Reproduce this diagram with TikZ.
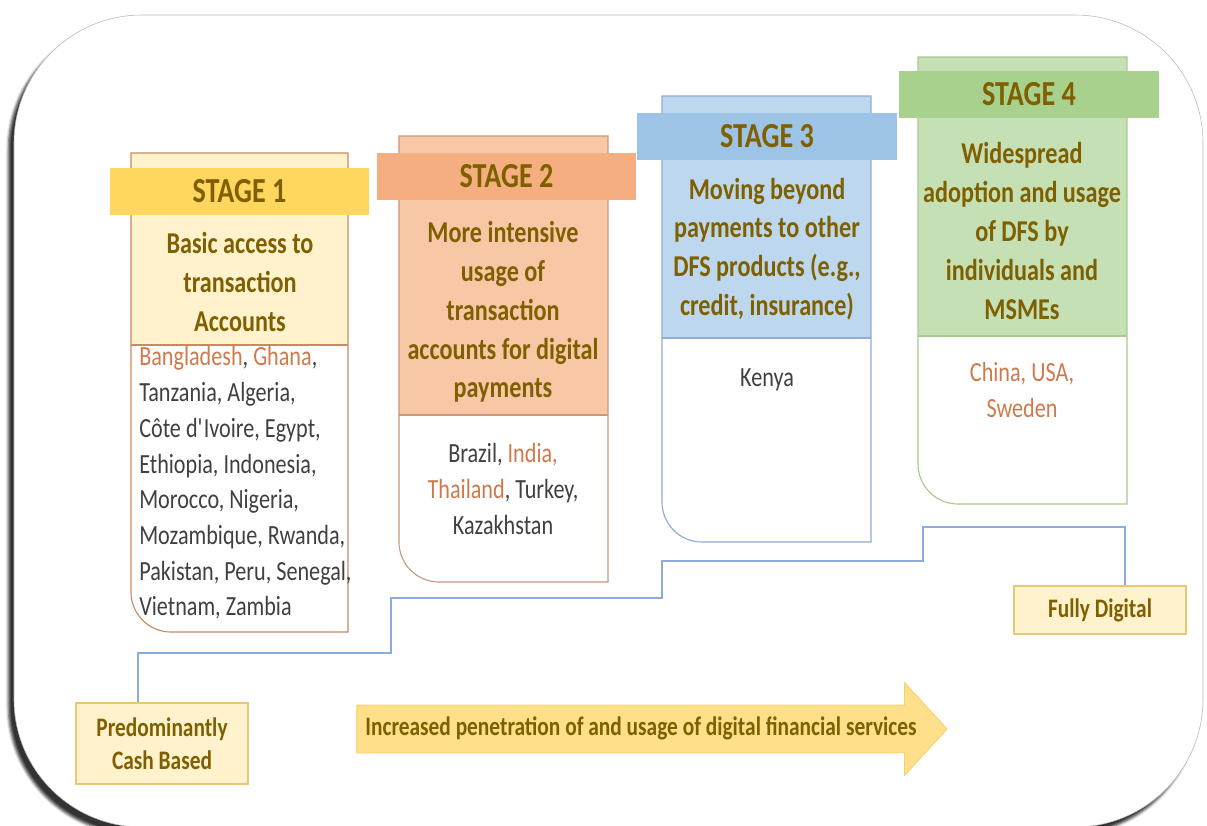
\documentclass[tikz,border=0pt]{standalone}
\usepackage{fontspec}
\setmainfont[FakeStretch=0.8]{Carlito}
\usepackage{xcolor}
\usetikzlibrary{positioning,shapes.arrows,shadows.blur}

\definecolor{titletxt}{HTML}{7F6000}
\definecolor{cntrytxt}{HTML}{404040}
\definecolor{hilite}{HTML}{D07A4C}
\definecolor{sonefill}{HTML}{FFF2CC}
\definecolor{soneband}{HTML}{FFD75E}
\definecolor{soneline}{HTML}{C98A5E}
\definecolor{stwofill}{HTML}{F8C7A6}
\definecolor{stwoband}{HTML}{F4AE80}
\definecolor{stwoline}{HTML}{C8987A}
\definecolor{sthreefill}{HTML}{BDD7EE}
\definecolor{sthreeband}{HTML}{9DC3E6}
\definecolor{sthreeline}{HTML}{8FAADC}
\definecolor{sfourfill}{HTML}{C5E0B4}
\definecolor{sfourband}{HTML}{A9D18E}
\definecolor{sfourline}{HTML}{A9C98F}
\definecolor{stepblue}{HTML}{8FAADC}
\definecolor{tagfill}{HTML}{FFF2CC}
\definecolor{tagline}{HTML}{E8C877}
\definecolor{arrowfill}{HTML}{FFE08A}
\definecolor{arrowline}{HTML}{F5D06B}

\newcommand{\hl}[1]{\textcolor{hilite}{#1}}
% box with rounded lower left corner: left, top, right, bottom, divider, fill, line
\newcommand{\stagebox}[7]{%
 \fill[#6] (#1,#2) rectangle (#3,#5);
 \draw[#7, line width=0.8pt] (#1,#5) -- (#3,#5);
 \draw[#7, line width=0.8pt] (#1,#2) -- (#3,#2) -- (#3,#4) -- ({#1+40},#4) arc (270:180:1cm) -- cycle;}

\tikzset{
 band/.style={fill=#1, minimum width=6.475cm, minimum height=1.175cm, inner sep=0pt,
   text=titletxt, font=\bfseries\fontsize{25}{30}\selectfont},
 desc/.style={align=center, text=titletxt, inner sep=0pt,
   font=\bfseries\fontsize{21.5}{27.6}\selectfont},
 cntry/.style={align=#1, text=cntrytxt, inner sep=0pt,
   font=\fontsize{19.7}{25.4}\selectfont},
 tag/.style={draw=tagline, fill=tagfill, line width=0.8pt, text=titletxt, align=center,
   inner sep=0pt, font=\bfseries\fontsize{19}{23.5}\selectfont},
 stepline/.style={draw=stepblue, line width=0.9pt},
}

\begin{document}
\begin{tikzpicture}[x=0.025cm,y=-0.025cm]
\useasboundingbox (0,0) rectangle (1207,825);
% frame
\draw[gray!55, fill=white, rounded corners=3.2cm,
  blur shadow={shadow xshift=-4pt, shadow yshift=-5pt, shadow opacity=80}]
  (14,15) rectangle (1203,827);

% stage boxes
\stagebox{131}{153}{348}{632}{345}{sonefill}{soneline}
\stagebox{399}{136}{608}{582}{415}{stwofill}{stwoline}
\stagebox{662}{96}{871}{542}{338}{sthreefill}{sthreeline}
\stagebox{918}{57}{1127}{504}{336}{sfourfill}{sfourline}

% nodes
\node[band=soneband] (s1) at (239.5,191.5) {STAGE 1};
\node[desc] (d1) at (240,282) {Basic access to\\transaction\\Accounts};
\node[cntry=left, anchor=west] (c1) at (139,483)
  {\hl{Bangladesh}, \hl{Ghana},\\Tanzania, Algeria,\\C\^ote d\textquotesingle Ivoire, Egypt,\\Ethiopia, Indonesia,\\Morocco, Nigeria,\\Mozambique, Rwanda,\\Pakistan, Peru, Senegal,\\Vietnam, Zambia};

\node[band=stwoband] (s2) at (506.5,176) {STAGE 2};
\node[desc] (d2) at (503,312) {More intensive\\usage of\\transaction\\accounts for digital\\payments};
\node[cntry=center] (c2) at (503,489) {Brazil, \hl{India,}\\\hl{Thailand}, Turkey,\\Kazakhstan};

\node[band=sthreeband] (s3) at (767,136.5) {STAGE 3};
\node[desc] (d3) at (767,249) {Moving beyond\\payments to other\\DFS products (e.g.,\\credit, insurance)};
\node[cntry=center] (c3) at (767,380) {Kenya};

\node[band=sfourband] (s4) at (1029,94) {STAGE 4};
\node[desc] (d4) at (1022,231) {Widespread\\adoption and usage\\of DFS by\\individuals and\\MSMEs};
\node[cntry=center, text=hilite] (c4) at (1022,390) {China, USA,\\Sweden};

\node[tag, minimum width=4.3cm, minimum height=2.025cm] (cash) at (162,743.5) {Predominantly\\Cash Based};
\node[tag, minimum width=4.3cm, minimum height=1.2cm] (digital) at (1100,610) {Fully Digital};

\node[single arrow, fill=arrowfill, draw=arrowline, line width=0.6pt,
  minimum height=14.75cm, minimum width=2.3cm, single arrow head extend=0.5625cm,
  single arrow tip angle=95, inner xsep=4pt, inner ysep=0pt, text height=0.75cm, text depth=0.425cm,
  text=titletxt, font=\bfseries\fontsize{19}{22}\selectfont] (grow) at (641,729)
  {Increased penetration of and usage of digital financial services};

% edges
\coordinate (ch) at (138,653);
\coordinate (dg) at (1125,527);
\draw[stepline] (ch |- cash.north) -- (ch) -- (391,653) |- (662,598) |- (923,561) |- (dg) -- (dg |- digital.north);
\end{tikzpicture}
\end{document}
